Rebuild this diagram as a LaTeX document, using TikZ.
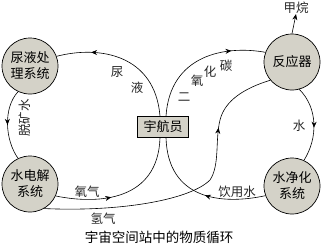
\documentclass[tikz,border=0pt]{standalone}
\usepackage{fontspec}
\newfontfamily\cjk{Noto Sans CJK SC}
\usetikzlibrary{arrows.meta,decorations.markings}
\definecolor{sysgray}{RGB}{212,210,200}
\tikzset{
  sysnode/.style={circle, draw, line width=0.7pt, fill=sysgray, minimum size=56pt,
    inner sep=0pt, align=center, font=\cjk\fontsize{13}{16}\selectfont},
  flow/.style={line width=0.6pt},
  midarrow/.style={postaction={decorate}, decoration={markings,
    mark=at position #1 with {\arrow{Stealth[length=6pt,width=5pt]}}}},
  lbl/.style={font=\cjk\fontsize{12.5}{14}\selectfont, text=black!85, inner sep=0pt},
}
\begin{document}
\begin{tikzpicture}[x=1pt,y=-1pt]
\useasboundingbox (0,0) rectangle (324,247);

% Draw the systems
\node[sysnode] (urine) at (30,66) {尿液处\\理系统};
\node[sysnode] (reactor) at (292,62) {反应器};
\node[sysnode] (elec) at (30,184) {水电解\\系统};
\node[sysnode] (purify) at (292,186) {水净化\\系统};
\node[draw, line width=0.7pt, fill=sysgray, minimum width=51pt, minimum height=21pt,
  inner sep=0pt, font=\cjk\fontsize{13}{16}\selectfont] (astro) at (163,127) {宇航员};
\node[lbl] (methane) at (296,8) {甲烷};

% Urine and carbon dioxide
\draw[flow, midarrow=0.75] ([xshift=-3pt]astro.north) .. controls (155,55) and (100,45) .. (urine.20);
\draw[flow, midarrow=0.75] ([xshift=3pt]astro.north) .. controls (170,55) and (225,45) .. (reactor.160);
\node[lbl] at (117,72) {尿};
\node[lbl] at (137,88) {液};
\node[lbl] at (184,97) {二};
\node[lbl] at (197,81) {氧};
\node[lbl] at (210,72) {化};
\node[lbl] at (226,66) {碳};

% Oxygen and drinking water
\draw[flow, midarrow=0.4] (elec.-25) .. controls (100,205) and (158,200) .. ([xshift=-3pt]astro.south);
\draw[flow, midarrow=0.45] (purify.-160) .. controls (222,205) and (168,200) .. ([xshift=3pt]astro.south);
\node[lbl] at (87,192) {氧气};
\node[lbl] at (237,192) {饮用水};

% Hydrogen
\draw[flow, midarrow=0.75] (elec.-60) .. controls (120,212) and (190,200) .. (210,180)
  .. controls (220,165) and (215,140) .. (220,120)
  .. controls (225,100) and (245,88) .. (reactor.-140);
\node[lbl] at (103,219) {氢气};

% Water loops
\draw[flow, midarrow=0.55] (reactor.-75) .. controls (318,108) and (318,138) .. (purify.65);
\node[lbl] at (299,126) {水};
\draw[flow, midarrow=0.5] (urine.-115) .. controls (3,108) and (5,140) .. (elec.115);
\node[lbl, rotate=90] at (25,118) {脱矿水};

% Methane
\draw[flow, -{Stealth[length=6pt,width=5pt]}] (reactor.north) -- (methane.south);

% Caption
\node[font=\cjk\fontsize{13.5}{16}\selectfont] (caption) at (159,237) {宇宙空间站中的物质循环};
\end{tikzpicture}
\end{document}
